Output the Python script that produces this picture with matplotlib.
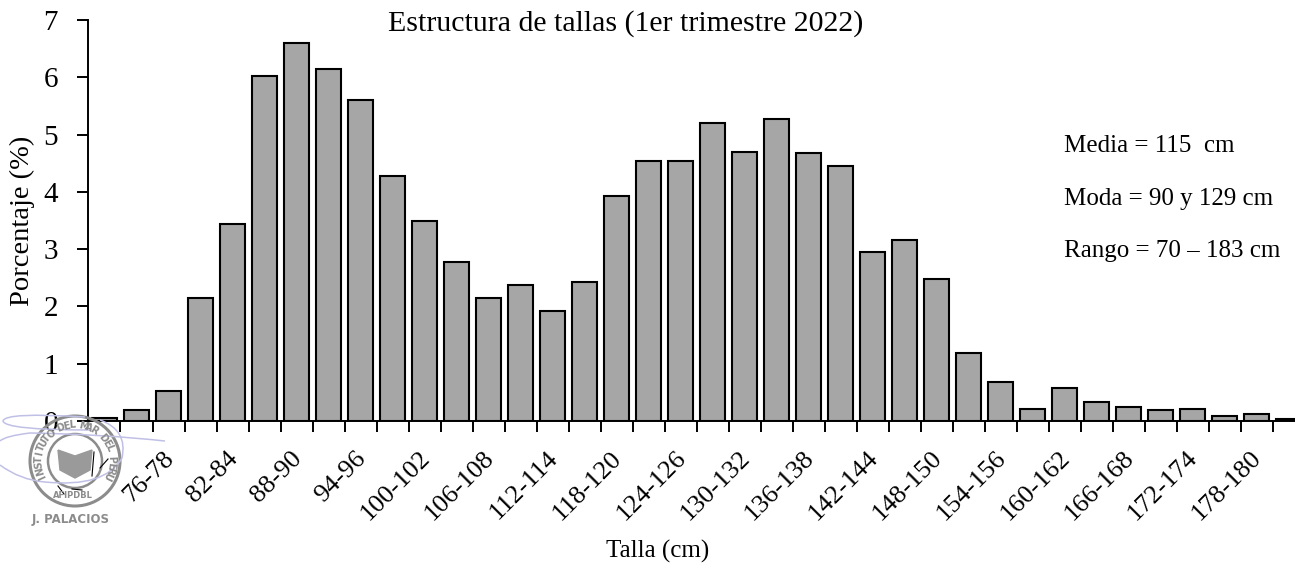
import numpy as np
from matplotlib import pyplot as plt
from matplotlib.patches import Circle, PathPatch
from matplotlib.path import Path

plt.rcParams['font.family'] = ['Liberation Serif', 'DejaVu Serif']

W, H = 1295, 566

starts = np.arange(70, 184, 3)
tallas = ['%d-%d' % (s, s + 2) for s in starts]
porcentaje = [0.05, 0.20, 0.52, 2.15, 3.44, 6.02, 6.60, 6.14, 5.61, 4.27,
              3.49, 2.78, 2.15, 2.38, 1.92, 2.42, 3.92, 4.53, 4.53, 5.21,
              4.70, 5.28, 4.68, 4.45, 2.95, 3.16, 2.48, 1.18, 0.68, 0.21,
              0.57, 0.34, 0.24, 0.19, 0.21, 0.09, 0.12, 0.04]
stats = ['Media = 115  cm', 'Moda = 90 y 129 cm', 'Rango = 70 – 183 cm']
stats_y = [146, 199, 251]

fig = plt.figure(figsize=(W / 100, H / 100), dpi=100)
# the axis runs past the right edge of the picture, as in the original
ax = fig.add_axes([88.5 / W, 1 - 421 / H, (1304.5 - 88.5) / W, 401 / H])
x = np.arange(len(porcentaje))
ax.bar(x, porcentaje, width=0.81, color='#a6a6a6', edgecolor='black', linewidth=1.5)
ax.set_xlim(-0.5, len(porcentaje) - 0.5)
ax.set_ylim(0, 7)
for s in ['top', 'right']:
    ax.spines[s].set_visible(False)
for s in ['left', 'bottom']:
    ax.spines[s].set_linewidth(1.4)

ax.set_xticks(np.arange(0.5, len(porcentaje) - 0.5, 1))
ax.set_xticklabels([])
ax.tick_params(axis='x', length=8, width=1.4)
ax.tick_params(axis='y', length=8, width=1.4, labelsize=21, pad=14)
ax.set_yticks(range(8))

for i in range(2, len(tallas), 2):
    ax.annotate(tallas[i], (i, 0), xytext=(-6, -26), textcoords='offset pixels',
                rotation=45, ha='right', va='top', rotation_mode='anchor', fontsize=19)

fig.text(626 / W, 1 - 24 / H, 'Estructura de tallas (1er trimestre 2022)', ha='center', va='center', fontsize=21.5)
fig.text(22 / W, 1 - 221 / H, 'Porcentaje (%)', rotation=90, ha='center', va='center', fontsize=20.5)
fig.text(658 / W, 1 - 551 / H, 'Talla (cm)', ha='center', va='center', fontsize=18)
for t, y in zip(stats, stats_y):
    fig.text(1064 / W, 1 - y / H, t, ha='left', va='center', fontsize=18)

# stamp and signature, drawn in figure pixels
over = fig.add_axes([0, 0, 1, 1], facecolor='none')
over.set_xlim(0, W)
over.set_ylim(H, 0)
over.axis('off')
sello = '#8c8c8c'
over.add_patch(Circle((75, 461), 45, fill=False, ec=sello, lw=2.2))
over.add_patch(Circle((75, 461), 27, fill=False, ec=sello, lw=1.8))
escudo = Path([(58, 450), (75, 456), (92, 450), (90, 470), (75, 478), (60, 470), (58, 450)])
over.add_patch(PathPatch(escudo, fc='#9a9a9a', ec='#9a9a9a', lw=1))
leyenda = 'INSTITUTO DEL MAR DEL PERU'
ang = np.linspace(205, -25, len(leyenda))
for c, a in zip(leyenda, ang):
    r = np.radians(a)
    over.text(75 + 36 * np.cos(r), 461 - 36 * np.sin(r), c, rotation=a - 90, ha='center',
              va='center', fontsize=7, color=sello, fontweight='bold', family='DejaVu Sans')
over.text(73, 495, 'AFIPDBL', ha='center', va='center', fontsize=6, color=sello, fontweight='bold', family='DejaVu Sans')
over.text(71, 520, 'J. PALACIOS', ha='center', va='center', fontsize=8.5, color=sello, fontweight='bold', family='DejaVu Sans')

firma = '#c0c0e6'
trazos = [[(85, 417), (5, 412), (3, 421), (5, 430), (90, 430)],
          [(165, 441), (100, 434), (30, 433), (5, 436), (0, 441)],
          [(0, 465), (20, 480), (45, 482), (105, 488), (122, 458), (128, 430), (100, 420)]]
for v in trazos:
    codes = [Path.MOVETO] + [Path.CURVE3] * (len(v) - 1)
    over.add_patch(PathPatch(Path(v, codes), fill=False, ec=firma, lw=1.1))
# pen marks over the stamp
for v in [[(94, 452), (92, 476)], [(108, 459), (100, 468)], [(58, 486), (64, 494)], [(72, 489), (82, 490)]]:
    over.plot(*zip(*v), color='black', lw=0.8)

fig.savefig('out.png', dpi=100)
